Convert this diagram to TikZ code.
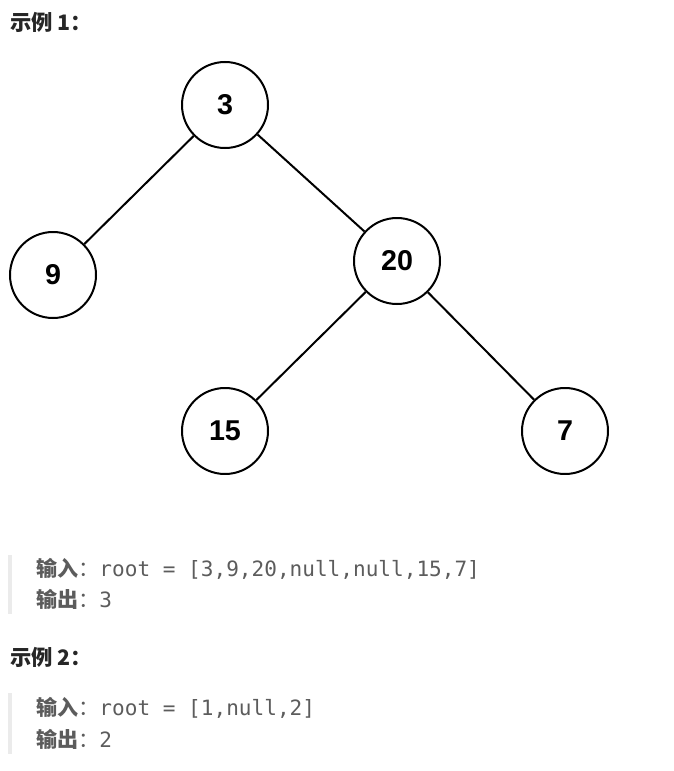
\documentclass[tikz,border=0pt]{standalone}
\usepackage{fontspec}
\setmainfont{Liberation Sans}
\setmonofont{DejaVu Sans Mono}
\newfontfamily\cjk{Noto Sans CJK SC}
\usetikzlibrary{positioning}

\definecolor{titlecol}{HTML}{262626}
\definecolor{codecol}{HTML}{5C5C5C}
\definecolor{barcol}{HTML}{EBEBEB}

\tikzset{
  treenode/.style={circle, draw, line width=1.5pt, minimum size=64.5pt, inner sep=0pt,
                   font=\fontsize{21.5}{24}\selectfont\bfseries},
  treeedge/.style={line width=1.5pt},
  heading/.style={anchor=west, inner sep=0pt, text=titlecol,
                  font=\fontsize{16}{18}\selectfont\cjk\bfseries},
  codeline/.style={anchor=west, inner sep=0pt, text=codecol,
                   font=\fontsize{15.8}{18}\selectfont},
  codebar/.style={fill=barcol, draw=none}
}

\begin{document}
\begin{tikzpicture}[x=0.75pt, y=-0.75pt]
  \useasboundingbox (0,0) rectangle (674,771);

  % example 1: title
  \node[heading] (t1) at (10,22) {示例 1：};

  % the tree, cut off at the bottom
  \begin{scope}
    \clip (0,0) rectangle (674,474);
    \foreach \x/\y/\v/\id in {225/105/3/n3, 53/275/9/n9, 397/261/20/n20, 225/431/15/n15, 565/431/7/n7}
      \node[treenode] (\id) at (\x,\y) {\v};

    \draw[treeedge] (n3) -- (n9);
    \draw[treeedge] (n3) -- (n20);
    \draw[treeedge] (n20) -- (n15);
    \draw[treeedge] (n20) -- (n7);
  \end{scope}

  % example 1: input / output
  \fill[codebar] (8,555) rectangle (12,614);
  \node[codeline] (in1) at (36,569) {{\cjk\bfseries 输入}{\cjk ：}\ttfamily root = [3,9,20,null,null,15,7]};
  \node[codeline] (out1) at (36,599) {{\cjk\bfseries 输出}{\cjk ：}\ttfamily 3};

  % example 2
  \node[heading] (t2) at (10,657) {示例 2：};
  \fill[codebar] (8,693) rectangle (12,754);
  \node[codeline] (in2) at (36,708) {{\cjk\bfseries 输入}{\cjk ：}\ttfamily root = [1,null,2]};
  \node[codeline] (out2) at (36,739) {{\cjk\bfseries 输出}{\cjk ：}\ttfamily 2};
\end{tikzpicture}
\end{document}
